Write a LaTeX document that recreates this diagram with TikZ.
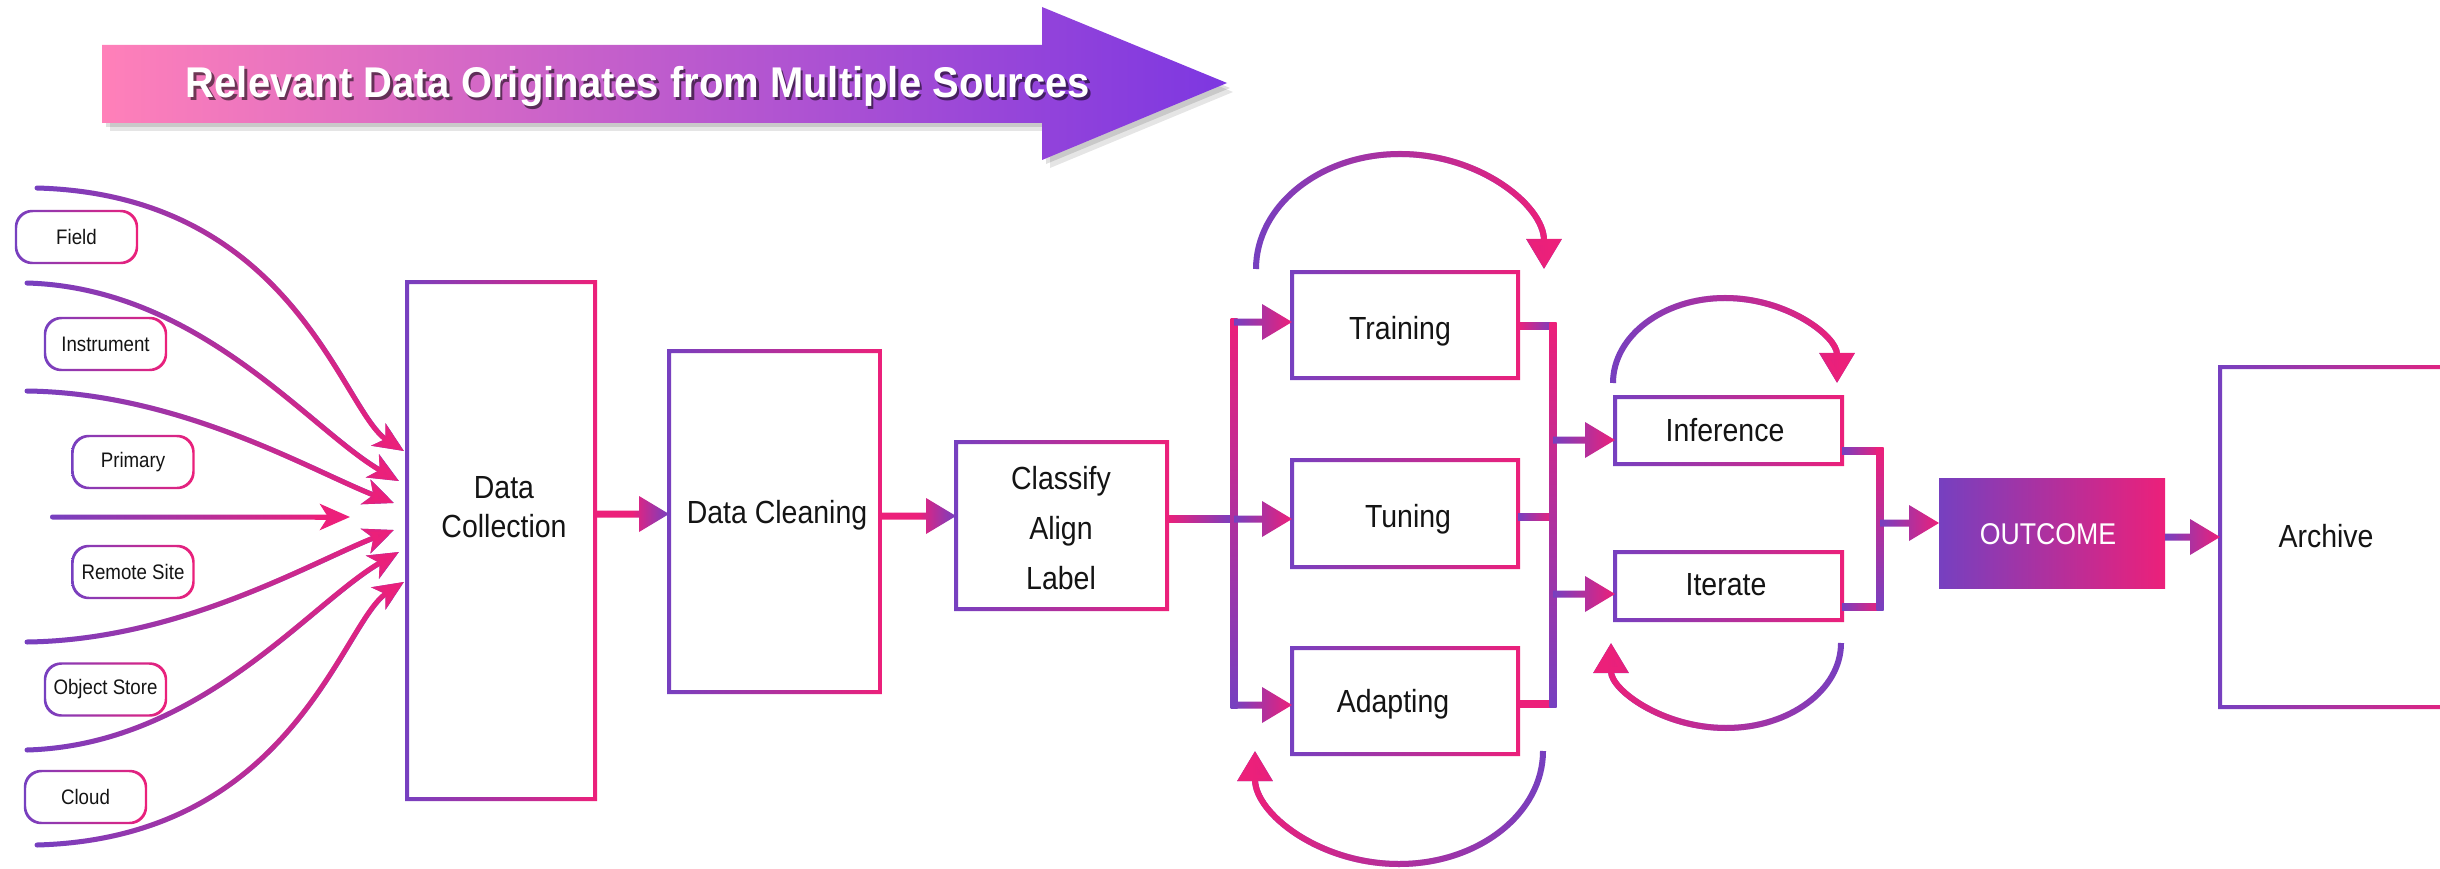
\documentclass[tikz,border=0pt]{standalone}
\usepackage{fontspec}
\setmainfont{Liberation Sans}[FakeStretch=0.89]
\newfontfamily\bannerfont{Liberation Sans}[FakeStretch=0.93]
\usetikzlibrary{calc,fadings,arrows.meta}
\definecolor{cpur}{RGB}{118,64,192}
\definecolor{cpink}{RGB}{236,32,122}
\definecolor{bpink}{RGB}{255,128,185}
\definecolor{bpur}{RGB}{125,55,225}
\definecolor{ink}{RGB}{20,20,20}

\newcommand\gradbox[1]{\shade[left color=cpur, right color=cpink, even odd rule]
  ([shift={(-2pt,-2pt)}]#1.south west) rectangle ([shift={(2pt,2pt)}]#1.north east)
  ([shift={(2pt,2pt)}]#1.south west) rectangle ([shift={(-2pt,-2pt)}]#1.north east);}
\newcommand\gradpill[1]{\shade[left color=cpur, right color=cpink, even odd rule]
  [rounded corners=17pt] ([shift={(-1.2pt,-1.2pt)}]#1.south west) rectangle ([shift={(1.2pt,1.2pt)}]#1.north east)
  [rounded corners=15.8pt] ([shift={(1.2pt,1.2pt)}]#1.south west) rectangle ([shift={(-1.2pt,-1.2pt)}]#1.north east);}
\newcommand\harr[3]{\shade[#3] let \p1=#1, \p2=#2 in
  (\x1,\y1+3.5pt) -- (\x2-30pt,\y1+3.5pt) -- (\x2-30pt,\y1+18pt) -- (\x2,\y1)
  -- (\x2-30pt,\y1-18pt) -- (\x2-30pt,\y1-3.5pt) -- (\x1,\y1-3.5pt) -- cycle;}
\newcommand\hseg[4]{\shade[left color=#3, right color=#4] let \p1=#1, \p2=#2 in
  (\x1,\y1-3.5pt) rectangle (\x2,\y1+3.5pt);}
\newcommand\vseg[4]{\shade[top color=#3, bottom color=#4] let \p1=#1, \p2=#2 in
  (\x1-3.5pt,\y1+3.5pt) rectangle (\x1+3.5pt,\y2-3.5pt);}
\newcommand\gcurve[6]{%
  \draw[#5, cpur] #1 .. controls #2 and #3 .. #4;
  \draw[#5, cpink, path fading=#6] #1 .. controls #2 and #3 .. #4;}

\tikzset{
  frame/.style={inner sep=0pt, outer sep=0pt},
  pill/.style={inner sep=0pt, outer sep=0pt, minimum width=121pt, minimum height=52pt,
    font=\fontsize{21}{25}\selectfont, text=ink},
  txt/.style={inner sep=0pt, outer sep=0pt, text=ink, font=\fontsize{32}{39}\selectfont},
  pk/.style={left color=cpur, right color=cpink},
  kp/.style={left color=cpink, right color=cpur, middle color=cpink},
  srcln/.style={line width=5pt, line cap=round, -{Stealth[length=30pt,width=26pt,inset=8pt]}},
  loopln/.style={line width=6pt, -{Triangle[length=30pt,width=34pt]}},
}

\begin{document}
\begin{tikzpicture}[x=1pt,y=-1pt]
\useasboundingbox (0,0) rectangle (2440,869);
\clip (0,0) rectangle (2440,869);
\fill[white] (0,0) rectangle (2440,869);

% ---------- banner ----------
\fill[black, opacity=0.10] (110,54) -- (1050,54) -- (1050,16) -- (1233,92) -- (1050,168) -- (1050,131) -- (110,131) -- cycle;
\fill[black, opacity=0.12] (106,50) -- (1046,50) -- (1046,12) -- (1230,88) -- (1046,164) -- (1046,127) -- (106,127) -- cycle;
\shade[left color=bpink, right color=bpur] (102,45) -- (1042,45) -- (1042,7) -- (1227,83) -- (1042,160) -- (1042,123) -- (102,123) -- cycle;
\node[anchor=base, inner sep=0pt, text=black, opacity=0.55, font=\bannerfont\bfseries\fontsize{43}{48}\selectfont] (bts) at (640.5,101) {Relevant Data Originates from Multiple Sources};
\node[anchor=base, inner sep=0pt, text=white, font=\bannerfont\bfseries\fontsize{43}{48}\selectfont] (bt) at (638,98) {Relevant Data Originates from Multiple Sources};

% ---------- boxes ----------
\node[frame, minimum width=188pt, minimum height=517pt] (dc) at (501,540.5) {};
\node[frame, minimum width=211pt, minimum height=341pt] (dcl) at (774.5,521.5) {};
\node[frame, minimum width=211pt, minimum height=167pt] (cal) at (1061.5,525.5) {};
\node[frame, minimum width=226pt, minimum height=106pt] (tr) at (1405,325) {};
\node[frame, minimum width=226pt, minimum height=107pt] (tu) at (1405,513.5) {};
\node[frame, minimum width=226pt, minimum height=106pt] (ad) at (1405,701) {};
\node[frame, minimum width=227pt, minimum height=67pt] (inf) at (1728.5,430.5) {};
\node[frame, minimum width=227pt, minimum height=68pt] (it) at (1728.5,586) {};
\node[frame, minimum width=226pt, minimum height=110pt] (out) at (2052,533) {};
\node[frame, minimum width=250pt, minimum height=340pt] (ar) at (2345,537) {};

\gradbox{dc}\gradbox{dcl}\gradbox{cal}\gradbox{tr}\gradbox{tu}\gradbox{ad}
\gradbox{inf}\gradbox{it}\gradbox{ar}
\shade[left color=cpur, right color=cpink] (out.south west) rectangle (out.north east);

\node[txt, anchor=north, align=center] (dct) at (504,476) {Data\\Collection};
\node[txt, anchor=base] (dclt) at (777,523) {Data Cleaning};
\node[txt, anchor=north, align=center, font=\fontsize{32}{50}\selectfont] (calt) at (1061,466.5) {Classify\\Align\\Label};
\node[txt, anchor=base] (trt) at (1400,339) {Training};
\node[txt, anchor=base] (tut) at (1408,527) {Tuning};
\node[txt, anchor=base] (adt) at (1393,712) {Adapting};
\node[txt, anchor=base] (inft) at (1725,441) {Inference};
\node[txt, anchor=base] (itt) at (1726,595) {Iterate};
\node[txt, anchor=base, text=white, font=\fontsize{30}{36}\selectfont] (outt) at (2048,544) {OUTCOME};
\node[txt, anchor=base] (art) at (2326,547) {Archive};

% ---------- sources ----------
\node[pill] (s1) at (76.5,237) {Field};
\node[pill] (s2) at (105.5,344) {Instrument};
\node[pill] (s3) at (133,462) {Primary};
\node[pill] (s4) at (133,572) {Remote Site};
\node[pill] (s5) at (105.5,689.5) {Object Store};
\node[pill] (s6) at (85.5,797) {Cloud};
\gradpill{s1}\gradpill{s2}\gradpill{s3}\gradpill{s4}\gradpill{s5}\gradpill{s6}

\coordinate (c1) at (37,188);  \coordinate (e1) at (404,451);
\coordinate (c2) at (27,283);  \coordinate (e2) at (399,481);
\coordinate (c3) at (27,391);  \coordinate (e3) at (394,503);
\coordinate (c4) at (50,517);  \coordinate (e4) at (350,517);
\coordinate (c5) at (27,642);  \coordinate (e5) at (394,530);
\coordinate (c6) at (27,750);  \coordinate (e6) at (399,552);
\coordinate (c7) at (37,845);  \coordinate (e7) at (404,582);

\gcurve{(c1)}{(294,195)}{(342,411)}{(e1)}{srcln}{west}
\gcurve{(c2)}{(200,288)}{(310,430)}{(e2)}{srcln}{west}
\gcurve{(c3)}{(180,393)}{(310,470)}{(e3)}{srcln}{west}
\gcurve{(c5)}{(180,640)}{(310,563)}{(e5)}{srcln}{west}
\gcurve{(c6)}{(200,745)}{(310,603)}{(e6)}{srcln}{west}
\gcurve{(c7)}{(294,838)}{(342,622)}{(e7)}{srcln}{west}
\shade[left color=cpur, right color=cpink, rounded corners=2.4pt] ([yshift=2.5pt]c4) rectangle ([shift={(-22pt,-2.5pt)}]e4);
\draw[srcln, cpink] ([xshift=-34pt]e4) -- (e4);

% ---------- main flow ----------
\coordinate (a1) at ([yshift=7.5pt]dcl.west);
\harr{(dc.east |- a1)}{(a1)}{kp}
\coordinate (a2) at ([yshift=9.5pt]cal.west);
\harr{(dcl.east |- a2)}{(a2)}{kp}

\coordinate (lbt) at (1234,322);
\coordinate (lbm) at (1234,519);
\coordinate (lbb) at (1234,705);
\hseg{(cal.east |- lbm)}{(lbm)}{cpink}{cpur}
\vseg{(lbt)}{(lbb)}{cpink}{cpur}
\harr{(lbt)}{(tr.west |- lbt)}{pk}
\harr{(lbm)}{(tu.west |- lbm)}{pk}
\harr{(lbb)}{(ad.west |- lbb)}{pk}

\coordinate (rbt) at (1553,326);
\coordinate (rbm) at (1553,517);
\coordinate (rbb) at (1553,704);
\coordinate (rbi) at (1553,440);
\coordinate (rbj) at (1553,594);
\hseg{(tr.east |- rbt)}{(rbt)}{cpink}{cpur}
\hseg{(tu.east |- rbm)}{(rbm)}{cpur}{cpink}
\hseg{(ad.east |- rbb)}{(rbb)}{cpink}{cpink}
\vseg{(rbt)}{(rbb)}{cpink}{cpur}
\harr{(rbi)}{(inf.west |- rbi)}{pk}
\harr{(rbj)}{(it.west |- rbj)}{pk}

\coordinate (ibt) at (1880,451);
\coordinate (ibb) at (1880,607);
\coordinate (ibm) at (1880,523);
\hseg{(inf.east |- ibt)}{(ibt)}{cpur}{cpink}
\hseg{(it.east |- ibb)}{(ibb)}{cpur}{cpink}
\vseg{(ibt)}{(ibb)}{cpink}{cpur}
\harr{(ibm)}{(out.west |- ibm)}{pk}
\harr{(out.east |- ar.west)}{(ar.west)}{pk}

% ---------- loops ----------
\coordinate (ta) at (1256,269); \coordinate (tb) at (1544,269);
\draw[loopln, cpur] (ta) .. controls (1256,205.5) and (1320.5,154) .. (1400,154) .. controls (1479.5,154) and (1544,205.5) .. (tb);
\draw[loopln, cpink, path fading=west] (ta) .. controls (1256,205.5) and (1320.5,154) .. (1400,154) .. controls (1479.5,154) and (1544,205.5) .. (tb);

\coordinate (aa) at (1543,751); \coordinate (ab) at (1255,751);
\draw[loopln, cpur] (aa) .. controls (1543,813.4) and (1478.5,864) .. (1399,864) .. controls (1319.5,864) and (1255,813.4) .. (ab);
\draw[loopln, cpink, path fading=east] (aa) .. controls (1543,813.4) and (1478.5,864) .. (1399,864) .. controls (1319.5,864) and (1255,813.4) .. (ab);

\coordinate (ia) at (1613,383); \coordinate (ib) at (1837,383);
\draw[loopln, cpur] (ia) .. controls (1613,336.1) and (1663.1,298) .. (1725,298) .. controls (1786.9,298) and (1837,336.1) .. (ib);
\draw[loopln, cpink, path fading=west] (ia) .. controls (1613,336.1) and (1663.1,298) .. (1725,298) .. controls (1786.9,298) and (1837,336.1) .. (ib);

\coordinate (ja) at (1841,643); \coordinate (jb) at (1611,643);
\draw[loopln, cpur] (ja) .. controls (1841,689.9) and (1789.5,728) .. (1726,728) .. controls (1662.5,728) and (1611,689.9) .. (jb);
\draw[loopln, cpink, path fading=east] (ja) .. controls (1841,689.9) and (1789.5,728) .. (1726,728) .. controls (1662.5,728) and (1611,689.9) .. (jb);
\end{tikzpicture}
\end{document}
